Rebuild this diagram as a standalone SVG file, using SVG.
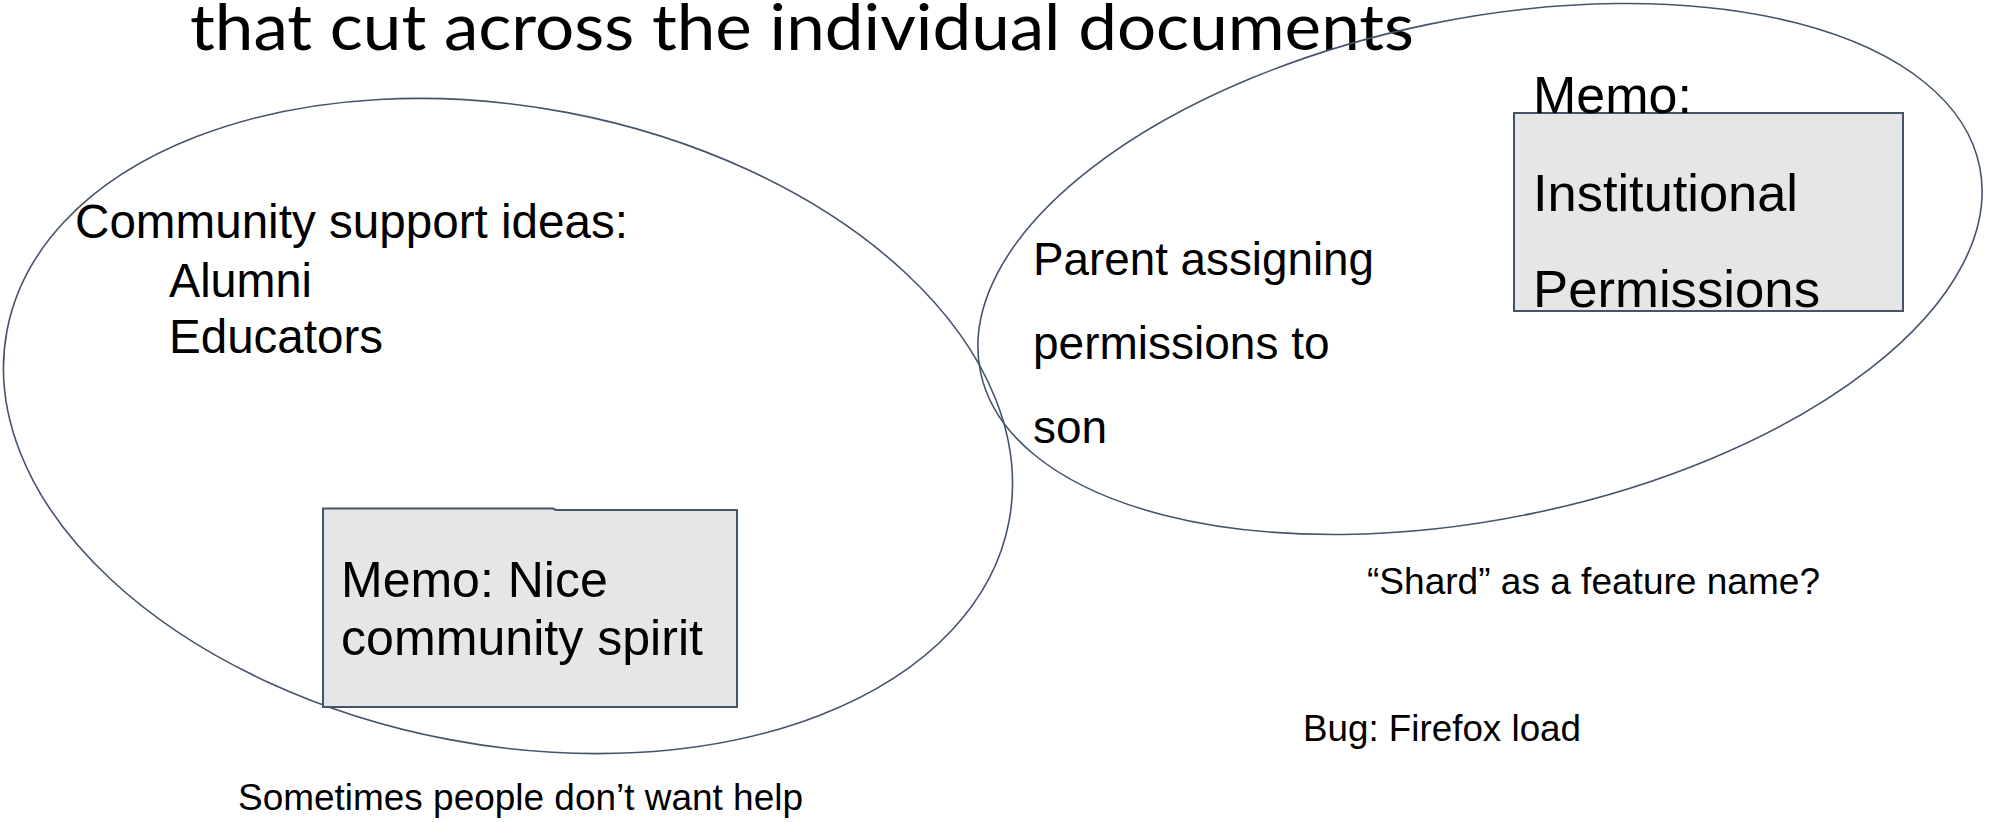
<svg xmlns="http://www.w3.org/2000/svg" width="1990" height="822" viewBox="0 0 1990 822">
<defs>
<style>
.bg{fill:#ffffff}
.venn{fill:none;stroke:#44546a;stroke-width:1.6}
.memo{fill:#e6e6e6;stroke:#44546a;stroke-width:2}
.t{font-family:"Liberation Sans",Arial,sans-serif;fill:#000000}
.title{font-family:Lato,"Open Sans",sans-serif;fill:#000000;font-size:64px}
</style>
</defs>
<rect class="bg" x="0" y="0" width="1990" height="822"/>
<g id="title">
<text class="title" x="190" y="50" textLength="1224" lengthAdjust="spacingAndGlyphs">that cut across the individual documents</text>
</g>
<g id="community-set">
<ellipse class="venn" cx="508" cy="426" rx="510" ry="319" transform="rotate(10.8 508 426)"/>
<text class="t" font-size="47.5"><tspan x="75" y="238" textLength="553" lengthAdjust="spacingAndGlyphs">Community support ideas:</tspan><tspan x="169" y="297" textLength="143" lengthAdjust="spacingAndGlyphs">Alumni</tspan><tspan x="169" y="353" textLength="214" lengthAdjust="spacingAndGlyphs">Educators</tspan></text>
</g>
<g id="permissions-set">
<ellipse class="venn" cx="1480" cy="269" rx="510" ry="250" transform="rotate(-11.6 1480 269)"/>
<text class="t" font-size="46"><tspan x="1033" y="275" textLength="341" lengthAdjust="spacingAndGlyphs">Parent assigning</tspan><tspan x="1033" y="359">permissions to</tspan><tspan x="1033" y="443">son</tspan></text>
</g>
<g id="memo-community">
<path class="memo" d="M323,508.5 H553 L556,510 H737 V707 H323 Z"/>
<text class="t" font-size="50"><tspan x="341" y="597">Memo: Nice</tspan><tspan x="341" y="655" textLength="362" lengthAdjust="spacingAndGlyphs">community spirit</tspan></text>
</g>
<g id="memo-permissions">
<rect class="memo" x="1514" y="113" width="389" height="198"/>
<text class="t" font-size="52"><tspan x="1533" y="113">Memo:</tspan><tspan x="1533" y="211" textLength="265" lengthAdjust="spacingAndGlyphs">Institutional</tspan><tspan x="1533" y="307" textLength="287" lengthAdjust="spacingAndGlyphs">Permissions</tspan></text>
</g>
<g id="note-shard">
<text class="t" font-size="37" x="1367" y="594" textLength="453" lengthAdjust="spacingAndGlyphs">“Shard” as a feature name?</text>
</g>
<g id="note-bug">
<text class="t" font-size="37" x="1303" y="741" textLength="278" lengthAdjust="spacingAndGlyphs">Bug: Firefox load</text>
</g>
<g id="note-help">
<text class="t" font-size="37" x="238" y="810" textLength="565" lengthAdjust="spacingAndGlyphs">Sometimes people don’t want help</text>
</g>
<g id="connectors"/>
</svg>
